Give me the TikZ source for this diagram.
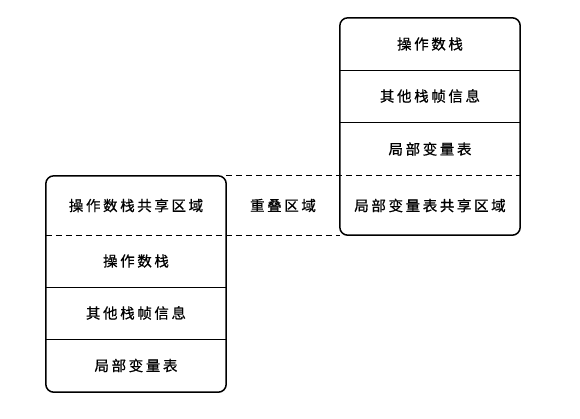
\documentclass[tikz,border=0pt]{standalone}
\usepackage{fontspec}
\newfontfamily\cjk[LetterSpace=18,FakeBold=0.6]{Noto Sans CJK SC}
\begin{document}
\begin{tikzpicture}[x=1pt,y=-1pt,
  cell/.style={minimum width=180pt,inner sep=0pt,font=\cjk\fontsize{14.5}{16}\selectfont},
  frame/.style={rounded corners=8pt,line width=1.5pt},
  sep/.style={line width=0.8pt},
  overlap/.style={dash pattern=on 6pt off 4pt,line width=0.8pt}]
\useasboundingbox (0,0) rectangle (580,418);
% right frame
\node[cell,minimum height=52pt] (r1) at (430,44) {操作数栈};
\node[cell,minimum height=52pt] (r2) at (430,96) {其他栈帧信息};
\node[cell,minimum height=54pt] (r3) at (430,149) {局部变量表};
\node[cell,minimum height=59pt] (r4) at (430,205.5) {局部变量表共享区域};
% left frame
\node[cell,minimum height=59pt] (l1) at (136,205.5) {操作数栈共享区域};
\node[cell,minimum height=52pt] (l2) at (136,261) {操作数栈};
\node[cell,minimum height=52pt] (l3) at (136,313) {其他栈帧信息};
\node[cell,minimum height=53pt] (l4) at (136,365.5) {局部变量表};
\node[cell,minimum width=0pt] (ov) at (283,205.5) {重叠区域};
% frames
\draw[frame] (r1.north west) rectangle (r4.south east);
\draw[frame] (l1.north west) rectangle (l4.south east);
\draw[sep] (r1.south west) -- (r1.south east);
\draw[sep] (r2.south west) -- (r2.south east);
\draw[sep] (l2.south west) -- (l2.south east);
\draw[sep] (l3.south west) -- (l3.south east);
% overlap boundaries
\draw[overlap] (l1.north east) -- (r4.north east);
\draw[overlap] (l1.south west) -- (r4.south west);
\end{tikzpicture}
\end{document}
